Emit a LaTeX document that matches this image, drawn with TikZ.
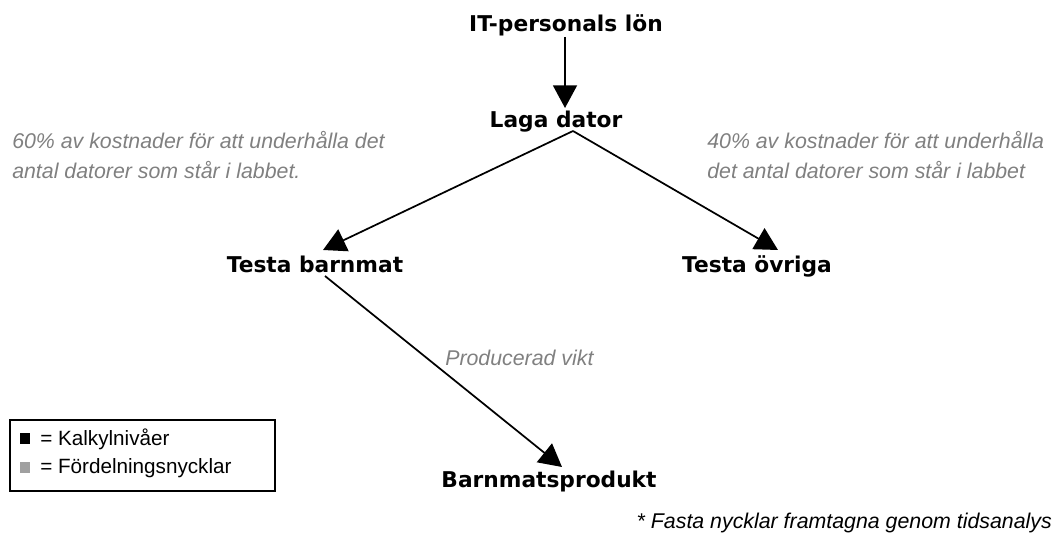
\documentclass[tikz,border=0pt]{standalone}
\usepackage{fontspec}
\setmainfont{Liberation Sans}
\newfontfamily\headfont{DejaVu Sans}
\usetikzlibrary{arrows.meta}
\definecolor{keygray}{RGB}{128,128,128}
\definecolor{squaregray}{RGB}{160,160,160}
\begin{document}
\begin{tikzpicture}[x=0.75pt,y=-0.75pt,
  level/.style={font=\headfont\bfseries\fontsize{16.3}{19}\selectfont, inner sep=0pt, anchor=base},
  keytext/.style={font=\itshape\fontsize{16}{22.5}\selectfont, text=keygray, inner sep=0pt, align=left},
  flow/.style={line width=1.3pt, -{Triangle[length=17pt,width=18pt]}},
  legendtext/.style={font=\fontsize{15.5}{18}\selectfont, inner sep=0pt, anchor=west}
]
\useasboundingbox (0,0) rectangle (1055,538);

% cost levels (placed by their baselines)
\node[level] (it)   at (566,32)  {IT-personals lön};
\node[level] (laga) at (556,128) {Laga dator};
\node[level] (barn) at (315,272) {Testa barnmat};
\node[level] (ovr)  at (757,272) {Testa övriga};
\node[level] (prod) at (549,487) {Barnmatsprodukt};

% connector end points
\coordinate (itb)   at (565,37);
\coordinate (lagat) at (565,108);
\coordinate (apex)  at (573,131);
\coordinate (barnt) at (323,250);
\coordinate (ovrt)  at (778,250);
\coordinate (barnb) at (325,276);
\coordinate (prodt) at (562,467);

\draw[flow] (itb) -- (lagat);
\draw[flow] (apex) -- (barnt);
\draw[flow] (apex) -- (ovrt);
\draw[flow] (barnb) -- (prodt);

% allocation keys
\node[keytext, anchor=north west] (kl) at (12,131) {60\% av kostnader för att underhålla det\\antal datorer som står i labbet.};
\node[keytext, anchor=north west] (kr) at (707,131) {40\% av kostnader för att underhålla\\det antal datorer som står i labbet};
\node[keytext, anchor=west] (kv) at (445,358) {Producerad vikt};

% legend
\draw[line width=0.8pt] (10,420) rectangle (275,491);
\fill[black] (20,433) rectangle (30,444);
\fill[squaregray] (20,462) rectangle (30,473);
\node[legendtext] (l1) at (40,439) {= Kalkylnivåer};
\node[legendtext] (l2) at (40,468) {= Fördelningsnycklar};

% footnote
\node[font=\itshape\fontsize{16}{18}\selectfont, inner sep=0pt, anchor=east] (fn) at (1052,523) {* Fasta nycklar framtagna genom tidsanalys};
\end{tikzpicture}
\end{document}
